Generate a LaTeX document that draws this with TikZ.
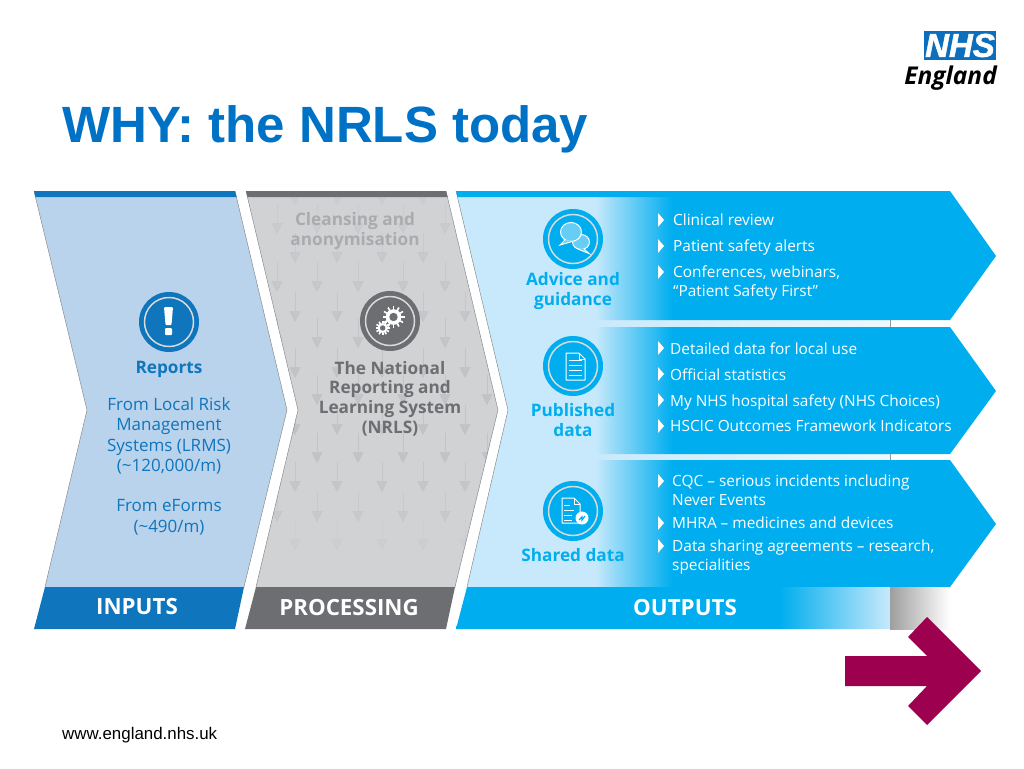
\documentclass[tikz,border=0pt]{standalone}
\usepackage{fontspec}
\usepackage{tikz}
\usetikzlibrary{arrows.meta}
\setmainfont{Open Sans}
\newfontfamily\arialfont{Liberation Sans}
\definecolor{titleblue}{HTML}{0072C6}
\definecolor{inblue}{HTML}{0F75BC}
\definecolor{inpale}{HTML}{B9D3ED}
\definecolor{procgrey}{HTML}{6D6E71}
\definecolor{procpale}{HTML}{D1D2D4}
\definecolor{procfade}{HTML}{A9ABAE}
\definecolor{procmark}{HTML}{C1C2C5}
\definecolor{outblue}{HTML}{00AEEF}
\definecolor{outpale}{HTML}{C8E9FB}
\definecolor{gapwhite}{HTML}{EDF8FD}
\definecolor{plum}{HTML}{9E0050}
\definecolor{nhsblue}{HTML}{0B6FBE}
\pgfdeclarehorizontalshading{rowfade}{100bp}{color(0bp)=(outpale); color(25bp)=(outpale); color(34.6bp)=(outblue); color(100bp)=(outblue)}
\pgfdeclarehorizontalshading{bandfade}{100bp}{color(0bp)=(outblue); color(62.3bp)=(outblue); color(75bp)=(outpale); color(100bp)=(outpale)}
\tikzset{
  edgeline/.style={draw=black!45,line width=.5pt},
  downmark/.style={draw=procmark,line width=.6pt,-{Triangle[length=11pt,width=11pt]}},
  iconcircle/.style={circle,minimum size=60pt,inner sep=0pt},
  bandtext/.style={font=\fontsize{22.3}{26}\selectfont\bfseries,text=white,inner sep=0pt},
  blocktext/.style={align=center,inner sep=0pt,font=\fontsize{17}{20.5}\selectfont},
  blockbold/.style={align=center,inner sep=0pt,font=\fontsize{17.2}{19.7}\selectfont\bfseries},
  rowtext/.style={anchor=base west,inner sep=0pt,text=white,font=\fontsize{15.4}{19}\selectfont},
  tworow/.style={rowtext,anchor=west,align=left}
}
\begin{document}
\begin{tikzpicture}[x=1pt,y=-1pt]
\useasboundingbox (0,0) rectangle (1024,768);

\node[anchor=base west,inner sep=0pt,text=titleblue,font=\fontsize{51}{57}\selectfont\arialfont\bfseries] (title) at (62,142) {WHY: the NRLS today};
\node[anchor=base west,inner sep=0pt,font=\fontsize{16.9}{20}\selectfont\arialfont] (site) at (62,739) {www.england.nhs.uk};

\node[fill=nhsblue,text=white,minimum width=72pt,minimum height=29pt,inner sep=0pt,font=\fontsize{33}{33}\selectfont\arialfont\bfseries\itshape\addfontfeature{FakeBold=1.5}] (nhs) at (960,45.5) {NHS};
\node[anchor=base east,inner sep=0pt,font=\fontsize{24.5}{27}\selectfont\bfseries\itshape] (england) at (997,84) {England};

\fill[inpale] (34,191) -- (235,191) -- (287,410) -- (244,587) -- (45,587) -- (87,410) -- cycle;
\draw[edgeline] (34,191) -- (87,410) -- (45,587);
\draw[edgeline] (235,191) -- (287,410) -- (244,587);
\fill[inblue] (34,191) -- (235,191) -- (236.5,197) -- (35.5,197) -- cycle;
\fill[inblue] (45,587) -- (244,587) -- (235,629) -- (34,629) -- cycle;

\fill[procpale] (246,191) -- (446,191) -- (498,410) -- (455,587) -- (256,587) -- (298,410) -- cycle;
\begin{scope}
\clip (246,191) -- (446,191) -- (498,410) -- (455,587) -- (256,587) -- (298,410) -- cycle;
\foreach \y/\fade in {205/.3,263/.5,322/.7,378/.9,435/.9,492/.7,550/.2}
  \foreach \x in {295,337,382,423,465}
    \draw[downmark,opacity=\fade] (\x,\y-30) -- (\x,\y);
\foreach \y/\fade in {234/.4,292/.6,348/.8,405/.9,463/.9,522/.5}
  \foreach \x in {277,317,358,403,445,487}
    \draw[downmark,opacity=\fade] (\x,\y-30) -- (\x,\y);
\end{scope}
\draw[edgeline] (246,191) -- (298,410) -- (256,587);
\draw[edgeline] (446,191) -- (498,410) -- (455,587);
\fill[procgrey] (246,191) -- (446,191) -- (447.5,197) -- (247.5,197) -- cycle;
\fill[procgrey] (256,587) -- (455,587) -- (446,629) -- (245,629) -- cycle;

\fill[outpale] (456,191) -- (890,191) -- (890,587) -- (467,587) -- (508,410) -- cycle;
\draw[edgeline] (456,191) -- (508,410) -- (467,587);
\shade[left color=outpale,right color=gapwhite] (590,320) rectangle (890,327);
\shade[left color=outpale,right color=gapwhite] (590,454) rectangle (890,460);
\draw[black!40,line width=.5pt] (890,320) -- (890,327);
\draw[black!40,line width=.5pt] (890,454) -- (890,460);
\foreach \top/\low/\tip in {191/320/256,327/454/391,460/587/524}
  \shade[shading=rowfade] (595,\top) -- (950,\top) -- (996,\tip) -- (950,\low) -- (595,\low) -- cycle;
\fill[outblue] (456,191) -- (672,191) -- (672,197) -- (457.5,197) -- cycle;
\shade[shading=bandfade] (467,587) -- (890,587) -- (890,629) -- (456,629) -- cycle;
\shade[left color=black!38,right color=white] (890,587) rectangle (950,629);

\fill[plum] (845,656) -- (927,656) -- (908,637) -- (927,617) -- (981,671) -- (927,725) -- (908,706) -- (927,686) -- (845,686) -- cycle;

\node[iconcircle,fill=inblue] (reportsicon) at (169,322) {};
\node[iconcircle,fill=procgrey] (nrlsicon) at (390,321) {};
\node[iconcircle,fill=outblue] (adviceicon) at (573,239) {};
\node[iconcircle,fill=outblue] (publishedicon) at (573,366) {};
\node[iconcircle,fill=outblue] (sharedicon) at (573,511) {};
\foreach \n in {reportsicon,nrlsicon,adviceicon,publishedicon,sharedicon}
  \draw[white!85!black,line width=1.5pt] (\n) circle (24.5pt);

\fill[white,rounded corners=1pt] (164,307) -- (173,307) -- (171.5,325) -- (165.5,325) -- cycle;
\fill[white,rounded corners=1pt] (165,328) rectangle (172,335);

\foreach \cx/\cy/\r in {393.5/317/10,382.7/328/6.5}{
  \foreach \a in {0,30,...,330}
    \draw[white,line width=1.6pt] (\cx,\cy) ++(\a:\r*.7) -- ++(\a:\r*.4);
  \fill[white] (\cx,\cy) circle ({\r*.78});
  \fill[procgrey] (\cx,\cy) circle ({\r*.42});
}

\filldraw[fill=outblue!60!white,draw=white,line width=1pt] (581,242) ellipse (8.5pt and 7.5pt);
\draw[white,line width=1pt,fill=outblue!60!white] (584,249) -- (589,253.5) -- (578,249);
\filldraw[fill=outblue!60!white,draw=white,line width=1pt] (571,232) ellipse (10.5pt and 9.5pt);
\filldraw[fill=outblue!60!white,draw=white,line width=1pt] (565,240) -- (560,245) -- (572,241.5);

\draw[white,line width=1pt,line join=round] (566,353) -- (579,353) -- (585,359) -- (585,380) -- (566,380) -- cycle;
\draw[white,line width=.8pt] (579,353) -- (579,359) -- (585,359);
\foreach \y in {360,365,370,375}
  \draw[white,line width=1pt] (569,\y) -- (582,\y);

\draw[white,line width=1pt,line join=round] (562,498) -- (574,498) -- (580,504) -- (580,523) -- (562,523) -- cycle;
\draw[white,line width=.8pt] (574,498) -- (574,504) -- (580,504);
\foreach \y/\w in {505/570,510/574,515/572,520/572}
  \draw[white,line width=1pt] (564,\y) -- (\w,\y);
\fill[white] (582,518) circle (6.5pt);
\draw[outblue,line width=1.2pt] (579,520) -- (582,517) -- (582,520) -- (585,516);

\node[blockbold,text=inblue] (reports) at (169,369) {Reports};
\node[blocktext,text=inblue] (lrms) at (169,436) {From Local Risk\\Management\\Systems (LRMS)\\(\textasciitilde 120,000/m)};
\node[blocktext,text=inblue] (eforms) at (169,517.5) {From eForms\\(\textasciitilde 490/m)};

\node[blockbold,text=procfade] (cleansing) at (355,231) {Cleansing and\\anonymisation};
\node[blockbold,text=procgrey] (nrls) at (390,398.5) {The National\\Reporting and\\Learning System\\(NRLS)};

\node[blockbold,text=outblue] (advice) at (573,291) {Advice and\\guidance};
\node[blockbold,text=outblue] (published) at (573,420) {Published\\data};
\node[blockbold,text=outblue] (shared) at (573,555) {Shared data};

\node[bandtext] (inputs) at (137,607) {INPUTS};
\node[bandtext] (processing) at (349,608) {PROCESSING};
\node[bandtext] (outputs) at (685,608) {OUTPUTS};

\foreach \y in {220,246,272,348,374,400,426,481,523,546}
  \fill[white] (658,\y-7) -- (664,\y) -- (658,\y+7) -- cycle;

\node[rowtext] (review) at (673,225) {Clinical review};
\node[rowtext] (alerts) at (673,251) {Patient safety alerts};
\node[tworow] (webinars) at (673,283) {Conferences, webinars,\\“Patient Safety First”};

\node[rowtext] (localuse) at (670,354) {Detailed data for local use};
\node[rowtext] (statistics) at (670,380) {Official statistics};
\node[rowtext] (choices) at (670,406) {My NHS hospital safety (NHS Choices)};
\node[rowtext] (hscic) at (670,431) {HSCIC Outcomes Framework Indicators};

\node[tworow] (cqc) at (672,490) {CQC – serious incidents including\\Never Events};
\node[rowtext] (mhra) at (672,528) {MHRA – medicines and devices};
\node[tworow] (sharing) at (672,556.5) {Data sharing agreements – research,\\specialities};
\end{tikzpicture}
\end{document}
